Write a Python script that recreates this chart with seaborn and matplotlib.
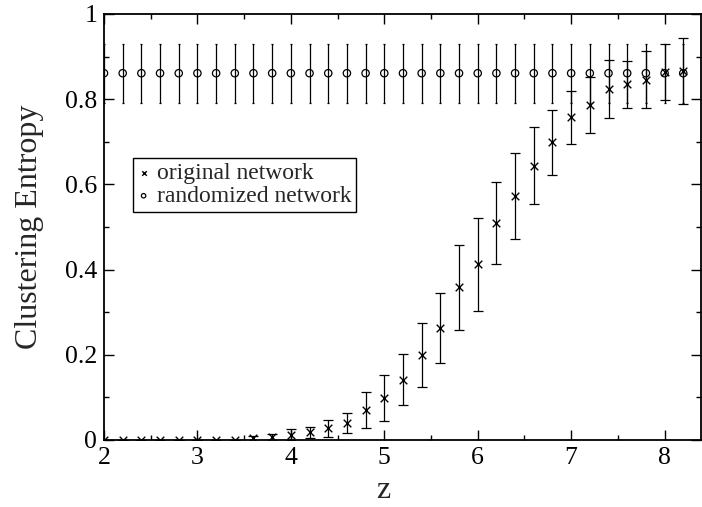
import numpy as np
import pandas as pd
import matplotlib
matplotlib.use("Agg")
import matplotlib.pyplot as plt
from matplotlib.ticker import MultipleLocator, FormatStrFormatter
import seaborn as sns

# Mean degree z at which the clustering entropy was measured
z = [2.0, 2.2, 2.4, 2.6, 2.8, 3.0, 3.2, 3.4, 3.6, 3.8, 4.0, 4.2, 4.4, 4.6, 4.8, 5.0,
     5.2, 5.4, 5.6, 5.8, 6.0, 6.2, 6.4, 6.6, 6.8, 7.0, 7.2, 7.4, 7.6, 7.8, 8.0, 8.2]

# Original network: mean entropy and its standard deviation
original_mean = [0.0, 0.0, 0.0, 0.0, 0.0, 0.0, 0.0, 0.001, 0.004, 0.006, 0.012, 0.018,
                 0.027, 0.040, 0.070, 0.098, 0.142, 0.199, 0.263, 0.358, 0.412, 0.510,
                 0.573, 0.644, 0.699, 0.758, 0.786, 0.824, 0.835, 0.846, 0.864, 0.866]
original_err = [0.0, 0.0, 0.0, 0.0, 0.0, 0.0, 0.0, 0.0, 0.006, 0.008, 0.013, 0.013,
                0.019, 0.024, 0.042, 0.054, 0.059, 0.075, 0.083, 0.099, 0.110, 0.096,
                0.101, 0.090, 0.076, 0.062, 0.065, 0.067, 0.055, 0.067, 0.065, 0.078]

# Randomized network: mean entropy and its standard deviation
random_mean = [0.861] * 32
random_err = [0.069] * 32

series_names = ["original network", "randomized network"]

df = pd.DataFrame({
    "z": z * 2,
    "entropy": original_mean + random_mean,
    "err": original_err + random_err,
    "series": [series_names[0]] * len(z) + [series_names[1]] * len(z),
})

sns.set_style("ticks")
plt.rcParams["font.family"] = ["Liberation Serif", "DejaVu Serif"]

fig = plt.figure(figsize=(7.02, 5.07), dpi=100)
ax = fig.add_axes([104 / 702, 1 - 440 / 507, 597 / 702, 426 / 507])

orig = df[df.series == series_names[0]]
rand = df[df.series == series_names[1]]

ax.errorbar(rand.z, rand.entropy, yerr=rand.err, fmt="none", ecolor="black",
            elinewidth=0.9, capsize=1.0, capthick=0.9, zorder=2)
ax.errorbar(orig.z, orig.entropy, yerr=orig.err, fmt="none", ecolor="black",
            elinewidth=0.9, capsize=3.5, capthick=0.9, zorder=2)

sns.scatterplot(data=orig, x="z", y="entropy", marker="x", color="black", s=30,
                linewidth=1.0, ax=ax, label=series_names[0], zorder=3)
sns.scatterplot(data=rand, x="z", y="entropy", marker="o", facecolor="none",
                edgecolor="black", s=28, linewidth=0.9, ax=ax,
                label=series_names[1], zorder=3)

ax.set_xlim(2, 8.39)
ax.set_ylim(0, 1)
ax.xaxis.set_major_locator(MultipleLocator(1))
ax.xaxis.set_minor_locator(MultipleLocator(0.5))
ax.yaxis.set_major_locator(MultipleLocator(0.2))
ax.yaxis.set_minor_locator(MultipleLocator(0.1))
ax.yaxis.set_major_formatter(FormatStrFormatter("%g"))
ax.xaxis.set_major_formatter(FormatStrFormatter("%g"))

ax.tick_params(which="both", direction="in", top=True, right=True,
               colors="black", width=1.0)
ax.tick_params(which="major", length=7, labelsize=18.5)
ax.tick_params(axis="x", which="major", pad=5)
ax.tick_params(axis="y", which="major", pad=5)
ax.tick_params(which="minor", length=3.5)
for side in ["left", "right", "top", "bottom"]:
    ax.spines[side].set_visible(True)
    ax.spines[side].set_color("black")
    ax.spines[side].set_linewidth(1.3)

ax.set_xlabel("z", fontsize=23)
ax.xaxis.set_label_coords(0.467, -0.085)
ax.set_ylabel("Clustering Entropy", fontsize=23)
ax.yaxis.set_label_coords(-0.101, 0.5)

leg = ax.legend(loc="upper left", bbox_to_anchor=(0.0485, 0.662), borderaxespad=0,
                fontsize=17, frameon=True, fancybox=False, shadow=False,
                handlelength=0.5, handletextpad=0.3, borderpad=0.2,
                labelspacing=0.05, markerscale=0.6, scatterpoints=1)
leg.get_frame().set_edgecolor("black")
leg.get_frame().set_linewidth(1.0)
leg.get_frame().set_facecolor("white")
leg.get_frame().set_alpha(1)

fig.savefig("out.png", dpi=100)
